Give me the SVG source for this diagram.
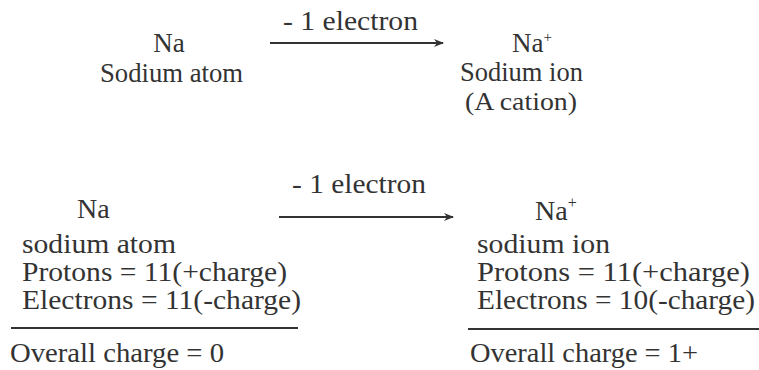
<svg xmlns="http://www.w3.org/2000/svg" width="759" height="370" viewBox="0 0 759 370">
<defs>
<style>
.t{font-family:"Liberation Serif","Times New Roman",serif;font-size:27px;fill:#333}
.b{font-size:28px}
.s{font-size:25px}
.c{text-anchor:middle}
.ln{stroke:#333;stroke-width:2;fill:none}
</style>
<marker id="ah" viewBox="0 0 10 10" refX="9" refY="5" markerWidth="10" markerHeight="10" markerUnits="userSpaceOnUse" orient="auto">
<path d="M0,1 L10,5 L0,9 L3,5 Z" fill="#333"/>
</marker>
</defs>
<rect width="759" height="370" fill="#fff"/>
<g id="connectors">
<line class="ln" x1="270" y1="43" x2="443" y2="43" marker-end="url(#ah)"/>
<line class="ln" x1="279" y1="217" x2="453" y2="217" marker-end="url(#ah)"/>
<line class="ln" x1="11" y1="328" x2="298" y2="328"/>
<line class="ln" x1="468" y1="329" x2="759" y2="329"/>
</g>
<g id="label-top">
<text class="t" x="283" y="30" textLength="135" lengthAdjust="spacingAndGlyphs">- 1 electron</text>
</g>
<g id="label-bottom">
<text class="t" x="292" y="193" textLength="134" lengthAdjust="spacingAndGlyphs">- 1 electron</text>
</g>
<g id="na-atom-top">
<text class="t c" x="169" y="52">Na</text>
<text class="t" x="100" y="82" textLength="143" lengthAdjust="spacingAndGlyphs">Sodium atom</text>
</g>
<g id="na-ion-top">
<text class="t" x="512" y="52">Na<tspan font-size="15" dy="-10">+</tspan></text>
<text class="t" x="460" y="81" textLength="123" lengthAdjust="spacingAndGlyphs">Sodium ion</text>
<text class="t s" x="465" y="110" textLength="112" lengthAdjust="spacingAndGlyphs">(A cation)</text>
</g>
<g id="na-atom-bottom">
<text class="t b" x="77" y="218">Na</text>
<text class="t b" x="22" y="253" textLength="154" lengthAdjust="spacingAndGlyphs">sodium atom</text>
<text class="t b" x="22" y="281" textLength="265" lengthAdjust="spacingAndGlyphs">Protons = 11(+charge)</text>
<text class="t b" x="22" y="309" textLength="279" lengthAdjust="spacingAndGlyphs">Electrons = 11(-charge)</text>
<text class="t b" x="10" y="362" textLength="214" lengthAdjust="spacingAndGlyphs">Overall charge = 0</text>
</g>
<g id="na-ion-bottom">
<text class="t b" x="535" y="220">Na<tspan font-size="16" dy="-12">+</tspan></text>
<text class="t b" x="477" y="253" textLength="133" lengthAdjust="spacingAndGlyphs">sodium ion</text>
<text class="t b" x="477" y="281" textLength="273" lengthAdjust="spacingAndGlyphs">Protons = 11(+charge)</text>
<text class="t b" x="477" y="309" textLength="278" lengthAdjust="spacingAndGlyphs">Electrons = 10(-charge)</text>
<text class="t b" x="470" y="362" textLength="228" lengthAdjust="spacingAndGlyphs">Overall charge = 1+</text>
</g>
</svg>
